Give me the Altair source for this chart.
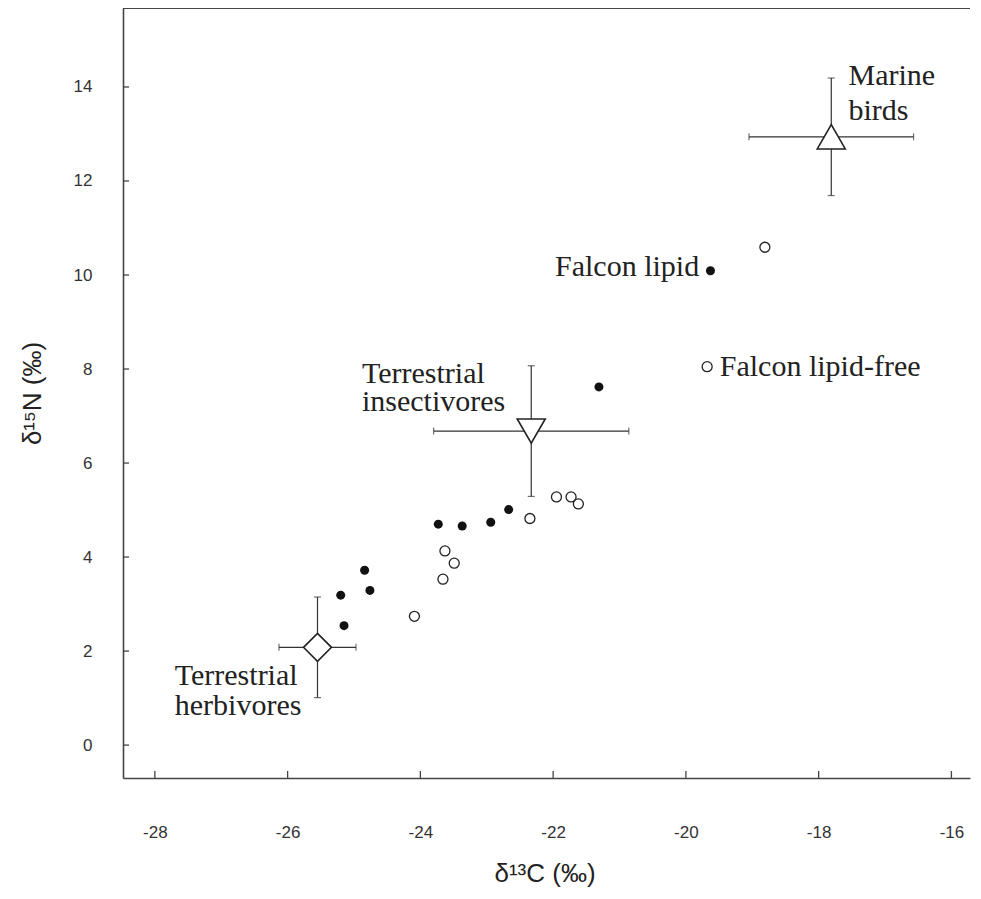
import altair as alt
import pandas as pd

# ---- data ----
TICKS_X = [-28, -26, -24, -22, -20, -18, -16]
TICKS_Y = [0, 2, 4, 6, 8, 10, 12, 14]

LIPID_X = [-19.63, -21.31, -22.67, -22.94, -23.37, -23.73, -24.84, -24.76, -25.20, -25.15]
LIPID_Y = [10.09, 7.62, 5.01, 4.74, 4.66, 4.70, 3.72, 3.29, 3.19, 2.54]

FREE_X = [-18.81, -19.68, -22.35, -21.95, -21.73, -21.62, -23.63, -23.49, -23.66, -24.09]
FREE_Y = [10.59, 8.05, 4.82, 5.28, 5.28, 5.13, 4.13, 3.87, 3.53, 2.74]

GROUPS = ["Marine birds", "Terrestrial insectivores", "Terrestrial herbivores"]
G_X = [-17.81, -22.33, -25.55]
G_Y = [12.94, 6.68, 2.08]
G_XERR = [1.24, 1.47, 0.58]
G_YERR = [1.25, 1.39, 1.07]
G_SHAPES = ["triangle-up", "triangle-down", "diamond"]

LABELS = ["Marine", "birds", "Falcon lipid", "Falcon lipid-free", "Terrestrial", "insectivores",
          "Terrestrial", "herbivores"]
LABEL_X = [-17.55, -17.55, -19.80, -19.49, -24.88, -24.88, -27.70, -27.70]
LABEL_Y = [14.04, 13.30, 9.98, 7.85, 7.70, 7.11, 1.28, 0.64]
LABEL_ALIGN = ["left", "left", "right", "left", "left", "left", "left", "left"]

X_DOMAIN = [-28.48, -15.72]
Y_DOMAIN = [-0.70, 15.68]

W, H = 847, 770
AXIS_COLOR = "#444"
TEXT_COLOR = "#222"

xs = alt.Scale(domain=X_DOMAIN, nice=False, zero=False)
ys = alt.Scale(domain=Y_DOMAIN, nice=False, zero=False)

x_axis = alt.Axis(orient="bottom", values=TICKS_X, ticks=False, grid=False, labelPadding=46,
                  labelFont="Liberation Sans", labelFontSize=17, labelColor="#333",
                  labelExpr="'' + datum.value",
                  domainColor=AXIS_COLOR, domainWidth=1.6,
                  title="δ¹³C (‰)", titleFont="Liberation Sans", titleFontSize=26,
                  titleFontWeight="normal", titleColor=TEXT_COLOR,
                  titleX=W / 2 - 2, titleY=95, titleBaseline="middle", titleAlign="center")
y_axis = alt.Axis(orient="left", values=TICKS_Y, ticks=False, grid=False, labelPadding=31,
                  labelFont="Liberation Sans", labelFontSize=17, labelColor="#333",
                  labelExpr="'' + datum.value",
                  domainColor=AXIS_COLOR, domainWidth=1.6,
                  title="δ¹⁵N (‰)", titleFont="Liberation Sans", titleFontSize=26,
                  titleFontWeight="normal", titleColor=TEXT_COLOR,
                  titleX=-91, titleY=H / 2, titleBaseline="middle", titleAlign="center",
                  titleAngle=270)


def X(f):
    return alt.X(f, type="quantitative", scale=xs, axis=x_axis)


def Y(f):
    return alt.Y(f, type="quantitative", scale=ys, axis=y_axis)


df_lipid = pd.DataFrame({"x": LIPID_X, "y": LIPID_Y})
df_free = pd.DataFrame({"x": FREE_X, "y": FREE_Y})
df_g = pd.DataFrame({
    "group": GROUPS, "x": G_X, "y": G_Y,
    "xlo": [a - b for a, b in zip(G_X, G_XERR)],
    "xhi": [a + b for a, b in zip(G_X, G_XERR)],
    "ylo": [a - b for a, b in zip(G_Y, G_YERR)],
    "yhi": [a + b for a, b in zip(G_Y, G_YERR)],
})
df_hcaps = pd.DataFrame({"x": list(df_g["xlo"]) + list(df_g["xhi"]), "y": G_Y + G_Y})
df_vcaps = pd.DataFrame({"x": G_X + G_X, "y": list(df_g["ylo"]) + list(df_g["yhi"])})
df_lab = pd.DataFrame({"text": LABELS, "x": LABEL_X, "y": LABEL_Y, "align": LABEL_ALIGN})
df_tx = pd.DataFrame({"x": TICKS_X})
df_ty = pd.DataFrame({"y": TICKS_Y})
df_top = pd.DataFrame({"y": [Y_DOMAIN[1]]})

# top frame line: a rule with only y spans the whole plot width
top_line = alt.Chart(df_top).mark_rule(color=AXIS_COLOR, strokeWidth=2).encode(y=Y("y"))

xticks = alt.Chart(df_tx).mark_rule(color=AXIS_COLOR, strokeWidth=1.3).encode(
    x=X("x"), y=alt.value(H), y2=alt.value(H - 7))
yticks = alt.Chart(df_ty).mark_rule(color=AXIS_COLOR, strokeWidth=1.3).encode(
    y=Y("y"), x=alt.value(0), x2=alt.value(6))

hbars = alt.Chart(df_g).mark_rule(color="#333", strokeWidth=1.2).encode(
    x=X("xlo"), x2="xhi", y=Y("y"))
vbars = alt.Chart(df_g).mark_rule(color="#333", strokeWidth=1.2).encode(
    x=X("x"), y=Y("ylo"), y2="yhi")
hcaps = alt.Chart(df_hcaps).mark_tick(orient="vertical", size=7, thickness=1.2, color="#333").encode(
    x=X("x"), y=Y("y"))
vcaps = alt.Chart(df_vcaps).mark_tick(orient="horizontal", size=7, thickness=1.2, color="#333").encode(
    x=X("x"), y=Y("y"))

group_pts = alt.Chart(df_g).mark_point(filled=False, fill="white", fillOpacity=1, stroke="#222",
                                       strokeWidth=1.6, opacity=1).encode(
    x=X("x"), y=Y("y"),
    shape=alt.Shape("group:N", scale=alt.Scale(domain=GROUPS, range=G_SHAPES), legend=None),
    size=alt.Size("group:N", scale=alt.Scale(domain=GROUPS, range=[784, 784, 676]), legend=None))

lipid = alt.Chart(df_lipid).mark_circle(size=81, color="#111", opacity=1).encode(x=X("x"), y=Y("y"))
free = alt.Chart(df_free).mark_point(shape="circle", size=100, filled=False, stroke="#222",
                                     strokeWidth=1.3, opacity=1).encode(x=X("x"), y=Y("y"))

labels_left = alt.Chart(df_lab[df_lab["align"] == "left"]).mark_text(
    align="left", baseline="alphabetic", font="Liberation Serif", fontSize=30, color=TEXT_COLOR).encode(
    x=X("x"), y=Y("y"), text="text:N")
labels_right = alt.Chart(df_lab[df_lab["align"] == "right"]).mark_text(
    align="right", baseline="alphabetic", font="Liberation Serif", fontSize=30, color=TEXT_COLOR).encode(
    x=X("x"), y=Y("y"), text="text:N")

chart = alt.layer(
    top_line, xticks, yticks, hbars, vbars, hcaps, vcaps, group_pts, lipid, free,
    labels_left, labels_right
).properties(
    width=W, height=H,
    autosize=alt.AutoSizeParams(type="none"),
    padding={"left": 115, "top": 0, "right": 3, "bottom": 113},
).configure_view(stroke="transparent")

chart.save("out.html", embed_options={"renderer": "svg", "actions": False})
